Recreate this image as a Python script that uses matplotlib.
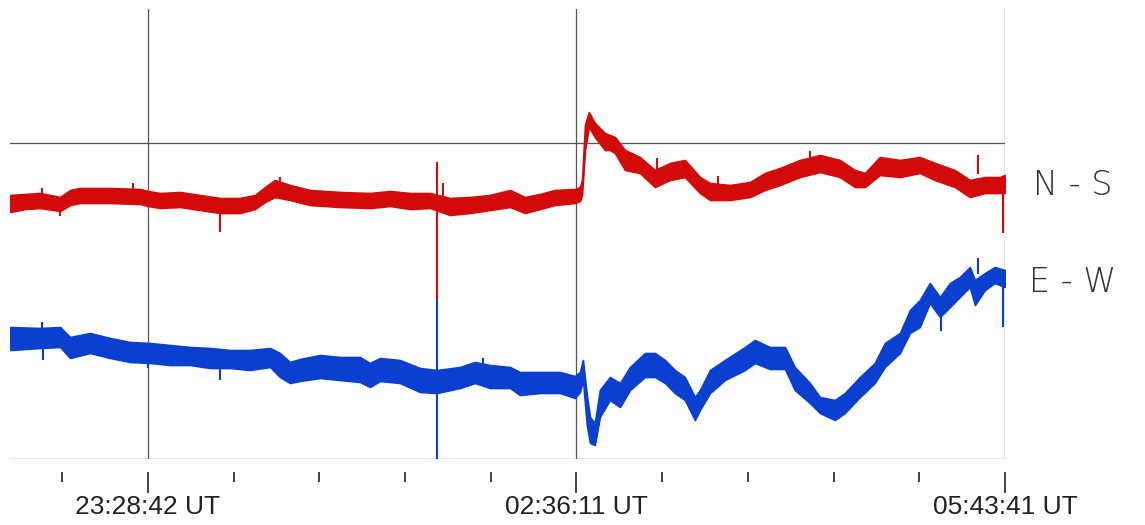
import numpy as np
import matplotlib
matplotlib.use("Agg")
import matplotlib.pyplot as plt
from matplotlib.ticker import FixedLocator

# record starts at 22:28:18 UT, times in minutes since start
START = (22, 28, 18)
TICK_LABELS = ["23:28:42 UT", "02:36:11 UT", "05:43:41 UT"]

# N-S component, band of the noisy trace (arbitrary units)
ns_t = [0, 6.6, 13.1, 21.9, 26.3, 30.6, 43.8, 56.9, 60.4, 65.6, 74.4, 83.1, 91.9,
        100.6, 107.2, 111.6, 115.9, 122.5, 131.3, 144.4, 157.5, 166.3, 175.0, 183.8,
        192.5, 201.3, 210.0, 218.8, 225.3, 231.9, 238.4, 247.2, 249.4, 250.3, 251.6,
        253.3, 255.9, 260.3, 262.5, 264.7, 269.1, 275.6, 282.2, 288.8, 295.3, 301.9,
        306.3, 315.0, 323.8, 330.3, 336.9, 345.6, 354.4, 363.1, 369.7, 374.1, 380.6,
        389.4, 398.1, 404.7, 413.4, 420.0, 426.6, 433.1, 435.3]
ns_hi = [264, 265, 266, 262, 269, 271, 271, 270, 268, 266, 267, 264, 261,
         261, 264, 272, 279, 274, 269, 267, 266, 268, 266, 266,
         261, 262, 264, 269, 262, 265, 269, 270, 272, 279, 334,
         347, 336, 326, 324, 322, 309, 302, 289, 296, 299, 282,
         276, 274, 277, 286, 291, 299, 304, 299, 289, 286, 302,
         299, 302, 296, 289, 279, 282, 282, 284]
ns_lo = [247, 250, 251, 248, 254, 256, 256, 255, 253, 251, 252, 249, 246,
         246, 250, 257, 262, 259, 254, 252, 251, 253, 250, 251,
         244, 246, 249, 252, 246, 250, 254, 256, 258, 264, 309,
         332, 322, 309, 309, 306, 289, 286, 272, 279, 282, 266,
         259, 259, 262, 269, 274, 282, 287, 282, 272, 272, 284,
         282, 286, 279, 272, 262, 266, 266, 266]
# spikes: time, from, to
ns_spike_t = [13.9, 21.9, 53.8, 91.9, 118.0, 186.8, 189.4, 283.1, 310.0, 350.0, 423.5, 434.4]
ns_spike_a = [260, 250, 262, 250, 270, 159, 255, 285, 270, 290, 285, 270]
ns_spike_b = [271, 243, 276, 227, 282, 297, 276, 301, 283, 308, 304, 226]

# E-W component
ew_t = [0, 13.1, 21.9, 26.3, 35.0, 43.8, 52.5, 61.3, 70.0, 78.8, 87.5, 96.3, 105.0,
        113.8, 118.1, 122.5, 126.9, 135.6, 144.4, 153.1, 157.5, 161.9, 170.6, 179.4,
        186.8, 196.9, 203.4, 210.0, 218.8, 223.1, 231.9, 240.6, 247.2, 249.4, 250.7,
        252.4, 253.8, 255.9, 258.1, 262.5, 266.9, 271.3, 277.8, 282.2, 286.6, 290.9,
        295.3, 299.7, 301.9, 306.3, 312.8, 321.6, 325.9, 332.5, 339.1, 343.4, 350.0,
        354.4, 360.9, 365.3, 371.9, 378.4, 382.8, 389.4, 393.8, 398.1, 402.5, 406.9,
        411.3, 415.6, 420.0, 422.2, 426.6, 430.9, 435.3]
ew_hi = [132, 131, 132, 122, 126, 121, 117, 116, 114, 112, 111, 109, 109,
         111, 106, 97, 100, 104, 102, 102, 96, 101, 99, 91,
         89, 92, 97, 94, 92, 87, 87, 87, 83, 87, 99,
         64, 42, 36, 69, 82, 76, 92, 106, 106, 99, 89,
         82, 62, 69, 89, 99, 112, 119, 112, 112, 92, 76,
         62, 59, 66, 82, 96, 116, 126, 149, 159, 176, 162,
         176, 182, 192, 179, 186, 192, 189]
ew_lo = [109, 111, 112, 101, 106, 101, 97, 96, 94, 94, 91, 91, 89,
         92, 82, 76, 78, 81, 79, 77, 72, 78, 76, 67,
         66, 71, 76, 71, 71, 64, 66, 66, 61, 67, 79,
         34, 16, 14, 42, 59, 52, 69, 82, 82, 76, 66,
         59, 39, 49, 66, 79, 89, 96, 90, 90, 69, 56,
         46, 39, 46, 62, 76, 92, 106, 126, 132, 156, 142,
         152, 162, 172, 154, 169, 176, 172]
ew_spike_t = [14.0, 14.4, 60.4, 91.9, 186.8, 207.0, 250.7, 407.5, 423.5, 434.4]
ew_spike_a = [125, 110, 105, 95, 159, 90, 85, 150, 185, 180]
ew_spike_b = [137, 99, 91, 79, 0, 101, 98, 128, 201, 132]

RED = "#d20a0a"
BLUE = "#0b3fcf"


def to_min(hms):
    h, m, s = hms
    t = (h * 60 + m + s / 60.0) - (START[0] * 60 + START[1] + START[2] / 60.0)
    if t < 0:
        t += 24 * 60
    return t


major = [to_min(tuple(int(p) for p in lab.split()[0].split(":"))) for lab in TICK_LABELS]
step = (major[1] - major[0]) / 5
minor = [major[0] - step] + [major[0] + step * k for k in range(1, 10) if k != 5]

fig = plt.figure(figsize=(11.45, 5.25), dpi=100)
ax = fig.add_axes([10 / 1145, 66 / 525, 995 / 1145, 450 / 525])

ax.fill_between(ns_t, ns_lo, ns_hi, color=RED, lw=1.2, zorder=3)
ax.vlines(ns_spike_t, ns_spike_a, ns_spike_b, color=RED, lw=1.5, zorder=3)
ax.fill_between(ew_t, ew_lo, ew_hi, color=BLUE, lw=1.2, zorder=3)
ax.vlines(ew_spike_t, ew_spike_a, ew_spike_b, color=BLUE, lw=1.5, zorder=3)

ax.set_xlim(0, major[2])
ax.set_ylim(0, 450)

# grid
for xm in major[:2]:
    ax.axvline(xm, color="#555555", lw=0.9, zorder=1)
ax.axhline(316, color="#555555", lw=0.9, zorder=1)
ax.axhline(0, color="#888888", lw=1.0, zorder=1)
ax.axvline(major[2], color="#777777", lw=1.0, zorder=1)

for s in ["top", "left", "right"]:
    ax.spines[s].set_visible(False)
ax.spines["bottom"].set_position(("outward", 9))
ax.spines["bottom"].set_visible(False)
ax.set_yticks([])

ax.xaxis.set_major_locator(FixedLocator(major))
ax.xaxis.set_minor_locator(FixedLocator(minor))
ax.set_xticklabels(TICK_LABELS, fontsize=19, family="Liberation Sans", color="#222222")
ax.tick_params(axis="x", which="major", length=15, width=1.3, color="#333333", pad=2)
ax.tick_params(axis="x", which="minor", length=7, width=1.3, color="#333333")

ax.text(1.068, 0.607, "N - S", transform=ax.transAxes, fontsize=24, fontweight="light",
        ha="center", va="center", color="#333333", clip_on=False)
ax.text(1.068, 0.393, "E - W", transform=ax.transAxes, fontsize=24, fontweight="light",
        ha="center", va="center", color="#333333", clip_on=False)

fig.savefig("out.png", dpi=100)
